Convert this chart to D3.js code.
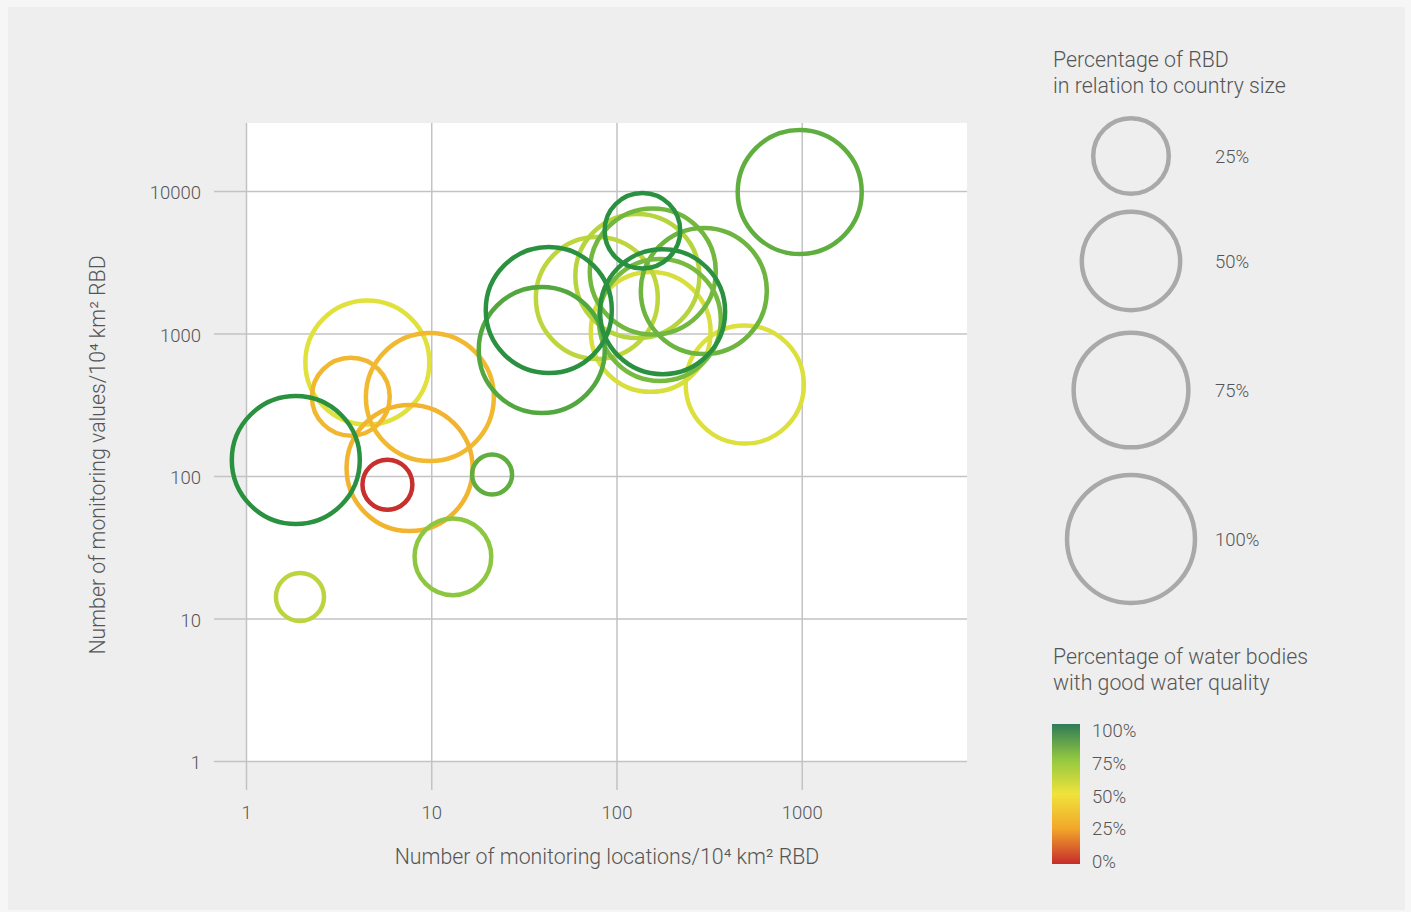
<!DOCTYPE html>
<html><head><meta charset="utf-8">
<script src="https://cdn.jsdelivr.net/npm/d3@7/dist/d3.min.js"></script>
<style>
html,body{margin:0;padding:0;background:#f6f6f6;}
svg{display:block;font-family:Roboto,"Noto Sans",sans-serif;font-weight:300;}
</style></head>
<body><svg id="c" width="1411" height="912"></svg>
<script>
// ---- data ----
const locations = [4.52, 3.68, 9.83, 7.64, 5.80, 1.956, 13.09, 21.3, 492.6, 153, 78.3, 129.6, 975, 157, 296, 171.4, 39.5, 1.857, 43.1, 177.4, 138];
const values    = [626, 360, 358, 113.8, 86.9, 14.16, 27.1, 102.5, 438.6, 1025, 1775, 2533, 9840, 2723, 1987, 1244, 766, 129.5, 1462, 1422, 5265];
const rbdShare  = [92, 27, 100, 96, 8.4, 7.6, 26, 4.7, 81, 84, 88, 92, 92, 96, 96, 88, 96, 100, 96, 94, 25];
const goodQuality = [53, 32, 33, 31, 2, 63, 75, 85, 54, 55, 62, 64, 85, 81, 82, 80, 88, 97, 97, 97, 97];

const xTicks = [1, 10, 100, 1000];
const yTicks = [1, 10, 100, 1000, 10000];
const sizeLegend = [25, 50, 75, 100];
const colorLegend = [100, 75, 50, 25, 0];
const colorStops = [0, 25, 50, 75, 100];
const colorValues = ['#c4262e', '#f4a52a', '#ebe53c', '#8dc63f', '#1b8a3f'];
const barColors = ['#c62b2c', '#f2a62a', '#efe33b', '#92c740', '#2e7b58'];

const xTitle = 'Number of monitoring locations/10\u2074 km\u00B2 RBD';
const yTitle = 'Number of monitoring values/10\u2074 km\u00B2 RBD';
const sizeTitle = ['Percentage of RBD', 'in relation to country size'];
const colorTitle = ['Percentage of water bodies', 'with good water quality'];

// ---- scales ----
const svg = d3.select('#c');
const x = d3.scaleLog().domain([1, 7800]).range([246, 967]);
const y = d3.scaleLog().domain([1, 30000]).range([761, 123]);
const r = d3.scalePow().exponent(0.38).domain([0, 100]).range([0, 64]);
const color = d3.scaleLinear().domain(colorStops).range(colorValues);
const barColor = d3.scaleLinear().domain(colorStops).range(barColors);
const textCol = '#555555';

svg.append('rect').attr('x', 8).attr('y', 7).attr('width', 1397).attr('height', 903).attr('fill', '#eeeeee');
svg.append('rect').attr('x', x.range()[0]).attr('y', y.range()[1])
  .attr('width', x.range()[1] - x.range()[0]).attr('height', y.range()[0] - y.range()[1] + 1).attr('fill', '#ffffff');

// y axis with gridlines
const gy = svg.append('g').attr('transform', `translate(${x.range()[1]},0)`)
  .call(d3.axisLeft(y).tickValues(yTicks).tickFormat(d3.format('d')).tickSize(x.range()[1] - 214).tickPadding(13));
// x axis with gridlines
const gx = svg.append('g').attr('transform', 'translate(0,790)')
  .call(d3.axisBottom(x).tickValues(xTicks).tickFormat(d3.format('d')).tickSize(-(790 - y.range()[1])).tickPadding(16));
[gx, gy].forEach(g => {
  g.select('.domain').remove();
  g.selectAll('line').attr('stroke', '#c3c3c6').attr('stroke-width', 1.5);
  g.selectAll('text').attr('fill', textCol).style('font-size', '18.5px').style('font-family', 'Roboto, sans-serif').style('font-weight', 300);
});
gy.selectAll('text').attr('dy', '0.42em');

// bubbles
const data = locations.map((d, i) => ({x: d, y: values[i], s: rbdShare[i], q: goodQuality[i]}));
svg.append('g').selectAll('circle').data(data).join('circle')
  .attr('cx', d => x(d.x)).attr('cy', d => y(d.y)).attr('r', d => r(d.s))
  .attr('fill', 'none').attr('stroke', d => color(d.q)).attr('stroke-width', 4.5);

// axis titles
svg.append('text').attr('x', 607).attr('y', 864).attr('text-anchor', 'middle')
  .attr('fill', textCol).style('font-size', '21.3px').text(xTitle);
svg.append('text').attr('transform', 'translate(105,455) rotate(-90)').attr('text-anchor', 'middle')
  .attr('fill', textCol).style('font-size', '21.3px').text(yTitle);

// size legend
const lg = svg.append('g');
lg.selectAll('text.t').data(sizeTitle).join('text').attr('class', 't')
  .attr('x', 1053).attr('y', (d, i) => 67 + i * 26).attr('fill', textCol).style('font-size', '21.3px').text(d => d);
const ly = [156, 261, 390, 539];
lg.selectAll('circle').data(sizeLegend).join('circle')
  .attr('cx', 1131).attr('cy', (d, i) => ly[i]).attr('r', d => r(d))
  .attr('fill', 'none').attr('stroke', '#a9a9ac').attr('stroke-width', 4.5);
lg.selectAll('text.l').data(sizeLegend).join('text').attr('class', 'l')
  .attr('x', 1215).attr('y', (d, i) => ly[i] + 7).attr('fill', textCol).style('font-size', '18.5px').text(d => d + '%');

// colour legend
const cg = svg.append('g');
cg.selectAll('text.t').data(colorTitle).join('text').attr('class', 't')
  .attr('x', 1053).attr('y', (d, i) => 664 + i * 26).attr('fill', textCol).style('font-size', '21.3px').text(d => d);
const grad = svg.append('defs').append('linearGradient').attr('id', 'qg')
  .attr('x1', 0).attr('y1', 1).attr('x2', 0).attr('y2', 0);
grad.selectAll('stop').data(colorStops).join('stop')
  .attr('offset', d => d + '%').attr('stop-color', d => barColor(d));
const barY = d3.scaleLinear().domain([100, 0]).range([730, 861]);
cg.append('rect').attr('x', 1052).attr('y', 724).attr('width', 28).attr('height', 140).attr('fill', 'url(#qg)');
cg.selectAll('text.l').data(colorLegend).join('text').attr('class', 'l')
  .attr('x', 1092).attr('y', d => barY(d) + 7).attr('fill', textCol).style('font-size', '18.5px').text(d => d + '%');
</script></body></html>
